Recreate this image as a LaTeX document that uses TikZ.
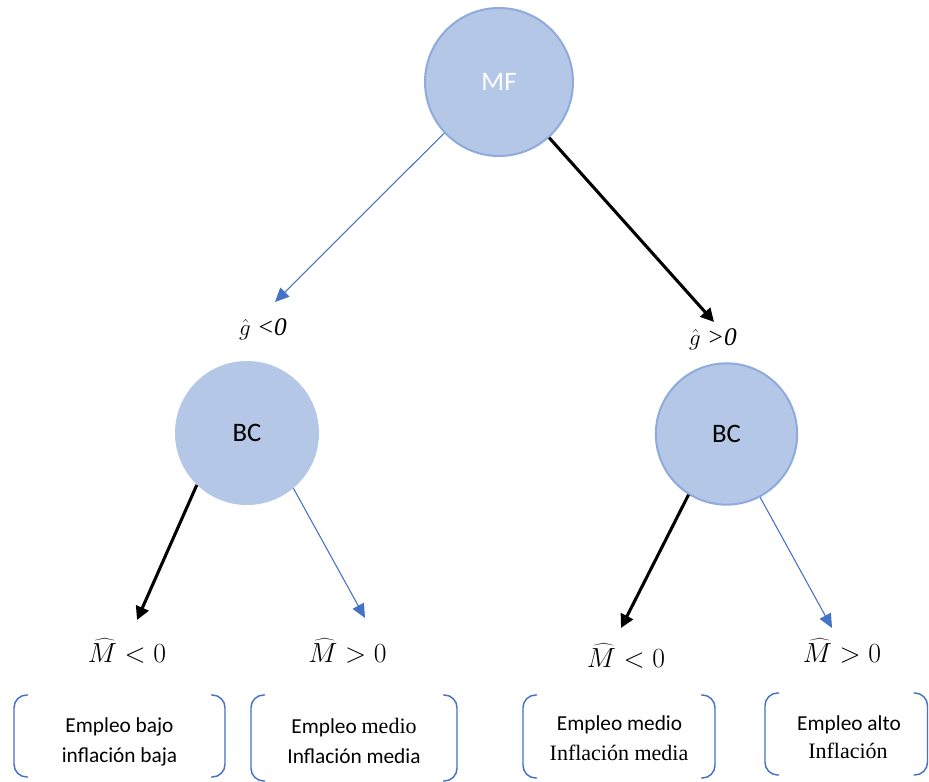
\documentclass[tikz,border=0pt]{standalone}
\usepackage{fontspec}
\newfontfamily\carl{Carlito}
\newfontfamily\serf{Liberation Serif}
\usetikzlibrary{arrows.meta}
\definecolor{cfill}{HTML}{B4C7E7}
\definecolor{cborder}{HTML}{8FAADC}
\definecolor{barblue}{HTML}{4472C4}
\newcommand\bracketpairX[4]{%
  \draw[brack] (#1+14,#2) -- (#1,#2) -- (#1,#4) -- (#1+14,#4);
  \draw[brack] (#3-14,#2) -- (#3,#2) -- (#3,#4) -- (#3-14,#4);}
\begin{document}
\begin{tikzpicture}[x=0.75pt,y=-0.75pt,
  circ/.style={circle,fill=cfill,inner sep=0pt,font=\carl\fontsize{20}{24}\selectfont},
  bluearr/.style={draw=barblue,line width=0.8pt,-{Triangle[length=10.5pt,width=9.5pt]}},
  blackarr/.style={draw=black,line width=2.3pt,-{Triangle[length=10pt,width=10pt]}},
  mlab/.style={anchor=base,inner sep=0pt,font=\fontsize{20.5}{24}\selectfont},
  glab/.style={anchor=base,inner sep=0pt,font=\serf\fontsize{19}{23}\selectfont},
  stxt/.style={anchor=base,inner sep=0pt,font=\carl\fontsize{16}{19}\selectfont},
  rtxt/.style={anchor=base,inner sep=0pt,font=\serf\fontsize{16.5}{19}\selectfont},
  brack/.style={draw=barblue,line width=1.1pt,rounded corners=9.5pt}]
\useasboundingbox (0,0) rectangle (929,782);

% circles
\node[circ,minimum size=111pt,draw=cborder,line width=1.5pt,text=white] (mf) at (499,82) {MF};
\node[circ,minimum size=108pt] (bc1) at (247,433) {BC};
\node[circ,minimum size=106pt,draw=cborder,line width=1.5pt] (bc2) at (726.5,434) {BC};

% g labels
\node[glab] (g1) at (263,335) {$\hat{g}$ {\itshape <0}};
\node[glab] (g2) at (713,345) {$\hat{g}$ {\itshape >0}};

% M labels
\node[mlab] (m1) at (127,662) {$\widehat{M}<0$};
\node[mlab] (m2) at (347.5,662) {$\widehat{M}>0$};
\node[mlab] (m3) at (626,667) {$\widehat{M}<0$};
\node[mlab] (m4) at (842,662) {$\widehat{M}>0$};

% arrow ends
\coordinate (e1) at (275,302);
\coordinate (e2) at (714,322);
\coordinate (e3) at (137,620);
\coordinate (e4) at (365,618);
\coordinate (e5) at (621,628);
\coordinate (e6) at (832,628);

\draw[bluearr] (mf.223) -- (e1);
\draw[blackarr] (mf.312) -- (e2);
\draw[blackarr] (bc1.226) -- (e3);
\draw[bluearr] (bc1.310) -- (e4);
\draw[blackarr] (bc2.238) -- (e5);
\draw[bluearr] (bc2.298) -- (e6);

% brackets
\bracketpairX{14}{695}{225}{777}
\bracketpairX{251}{695}{457}{781}
\bracketpairX{523}{695}{715}{778}
\bracketpairX{765}{693}{927.5}{775}

% box texts
\node[stxt] (t1a) at (119.5,732) {Empleo bajo};
\node[stxt] (t1b) at (119.5,762) {inflación baja};
\node[stxt] (t2a) at (354,733) {Empleo {\serf\fontsize{16.5}{19}\selectfont medio}};
\node[stxt] (t2b) at (354,763) {Inflación media};
\node[stxt] (t3a) at (619.5,730) {Empleo medio};
\node[rtxt] (t3b) at (619,760) {Inflación media};
\node[stxt] (t4a) at (849,730) {Empleo alto};
\node[rtxt] (t4b) at (848,758) {Inflación};
\end{tikzpicture}
\end{document}
